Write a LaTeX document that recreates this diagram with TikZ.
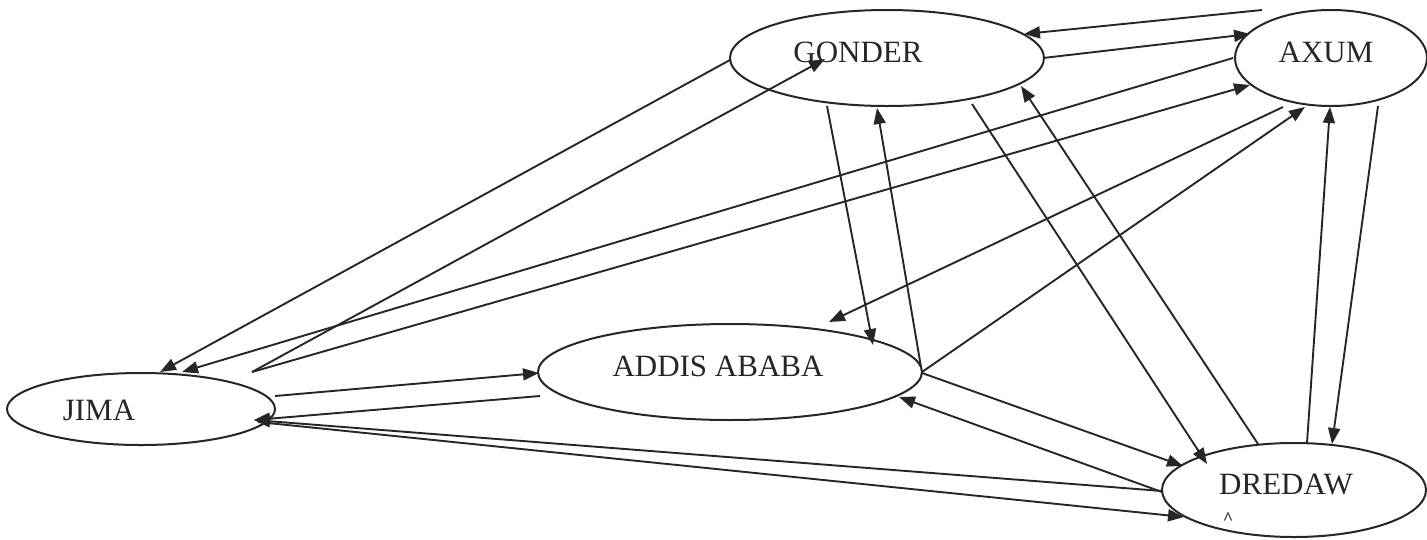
\documentclass[tikz,border=0pt]{standalone}
\usepackage{fontspec}
\setmainfont{Liberation Serif}
\usetikzlibrary{shapes.geometric,arrows.meta,calc}
\definecolor{ink}{RGB}{38,38,38}
\tikzset{
  city/.style={ellipse, draw=ink, line width=2pt, inner sep=0pt, outer sep=0pt},
  cityname/.style={inner sep=0pt, text=ink, font=\fontsize{31}{36}\selectfont},
  route/.style={draw=ink, line width=1.9pt, -{Triangle[length=16pt,width=12pt]}}
}
\begin{document}
\begin{tikzpicture}[x=1pt,y=-1pt]
\useasboundingbox (0,0) rectangle (1427,539);

% towns
\node[city, minimum width=314pt, minimum height=96pt] (gonder) at (887,58) {};
\node[city, minimum width=192pt, minimum height=96pt] (axum) at (1331,58) {};
\node[city, minimum width=268pt, minimum height=72pt] (jima) at (141,409) {};
\node[city, minimum width=384pt, minimum height=96pt] (addis) at (730,372) {};
\node[city, minimum width=264pt, minimum height=94pt] (dredaw) at (1294,490) {};

% town names
\node[cityname] (gondertext) at (858,52) {GONDER};
\node[cityname] (axumtext) at (1326,52) {AXUM};
\node[cityname] (jimatext) at (99,410) {JIMA};
\node[cityname] (addistext) at (718,366) {ADDIS ABABA};
\node[cityname] (dredawtext) at (1286,484) {DREDAW};
\node[inner sep=0pt, text=ink, font=\bfseries\fontsize{18}{18}\selectfont] (caret) at (1228,519) {\textasciicircum};

% routes between every pair of towns
\draw[route] ($(gonder)+(-157,2)$) -- ($(jima)+(19,-37)$);
\draw[route] ($(axum)+(-98,0)$) -- ($(jima)+(41,-37)$);
\draw[route] ($(jima)+(111,-37)$) -- ($(gonder)+(-62,1)$);
\draw[route] ($(jima)+(111,-37)$) -- ($(axum)+(-81,27)$);
\draw[route] ($(axum)+(-69,-48)$) -- ($(gonder)+(137,-24)$);
\draw[route] ($(gonder)+(156,0)$) -- ($(axum)+(-81,-24)$);
\draw[route] ($(gonder)+(-60,48)$) -- ($(addis)+(143,-27)$);
\draw[route] ($(addis)+(191,-5)$) -- ($(gonder)+(-10,50)$);
\draw[route] ($(axum)+(-48,49)$) -- ($(addis)+(99,-50)$);
\draw[route] ($(addis)+(192,0)$) -- ($(axum)+(-26,49)$);
\draw[route] ($(gonder)+(85,46)$) -- ($(dredaw)+(-87,-26)$);
\draw[route] ($(dredaw)+(-36,-46)$) -- ($(gonder)+(134,28)$);
\draw[route] ($(addis)+(192,1)$) -- ($(dredaw)+(-111,-24)$);
\draw[route] ($(dredaw)+(-132,2)$) -- ($(addis)+(169,25)$);
\draw[route] ($(axum)+(47,48)$) -- ($(dredaw)+(38,-46)$);
\draw[route] ($(dredaw)+(13,-47)$) -- ($(axum)+(-1,49)$);
\draw[route] ($(jima)+(134,-13)$) -- ($(addis)+(-191,1)$);
\draw[route] ($(addis)+(-190,24)$) -- ($(jima)+(113,11)$);
\draw[route] ($(dredaw)+(-132,1)$) -- ($(jima)+(113,11)$);
\draw[route] ($(jima)+(117,13)$) -- ($(dredaw)+(-110,27)$);
\end{tikzpicture}
\end{document}
